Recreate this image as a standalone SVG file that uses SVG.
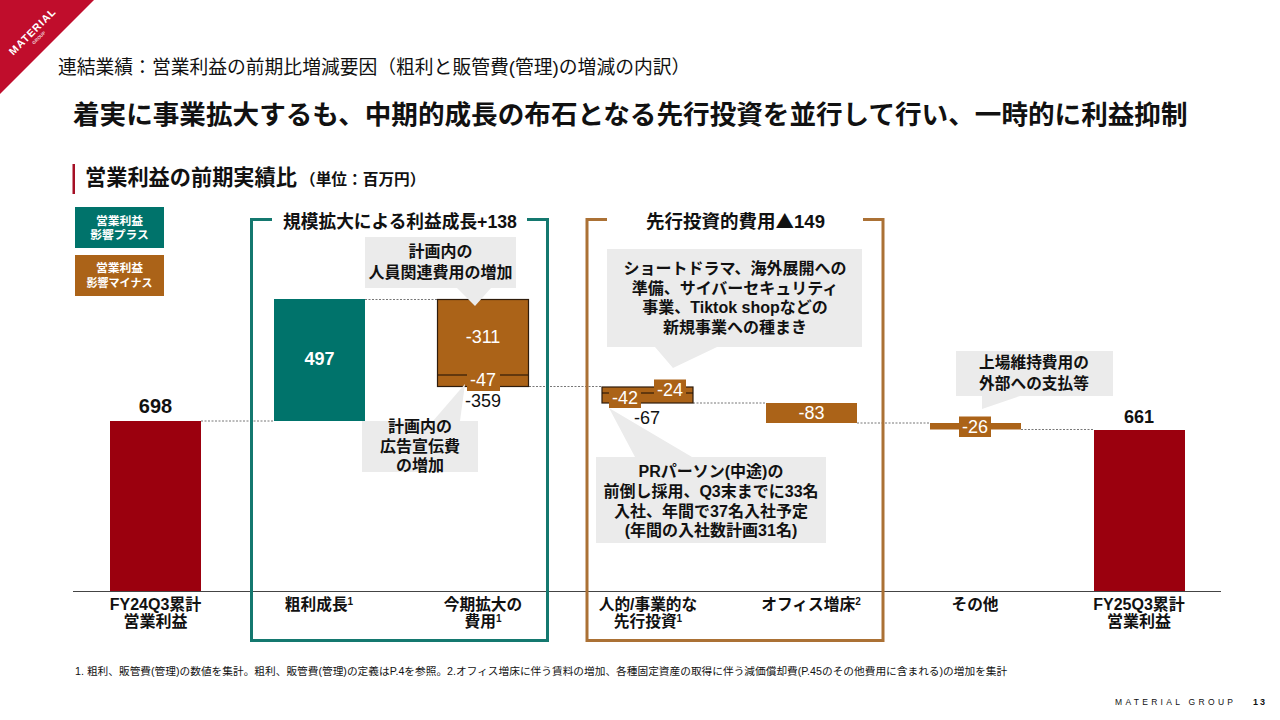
<svg xmlns="http://www.w3.org/2000/svg" width="1280" height="720" viewBox="0 0 1280 720">
<style>
text{font-family:"Liberation Sans","Noto Sans CJK JP",sans-serif;fill:#111}
.b{font-weight:700}
.c{text-anchor:middle}
.w{fill:#fff}
.br{fill:#ab6318}
.te{fill:#00736b}
.red{fill:#9b000e}
.call{fill:#ebebeb}
.dash{stroke:#777;stroke-width:1;stroke-dasharray:2 1.5;fill:none}
.l14{font-size:15.700px;font-weight:700}
.l15{font-size:16px;font-weight:700}
.v{font-size:18px;fill:#fff}
</style>
<rect width="1280" height="720" fill="#fff"/>
<g id="header">
<polygon points="0,0 94,0 0,94" fill="#c00d2c"/>
<g transform="translate(35,34) rotate(-45)">
<text x="0" y="0" class="c w" font-size="10.500" font-weight="700" letter-spacing="1">MATERIAL</text>
<text x="0" y="7" class="c b w" font-size="4.500" opacity="0.8">GROUP</text>
</g>
<text x="58" y="74" font-size="18.800">連結業績：営業利益の前期比増減要因（粗利と販管費(管理)の増減の内訳）</text>
<text x="73" y="124" class="b" font-size="26.600">着実に事業拡大するも、中期的成長の布石となる先行投資を並行して行い、一時的に利益抑制</text>
<rect x="72.500" y="164" width="2.500" height="30" fill="#a50f25"/>
<text x="85" y="185" class="b" font-size="21.200">営業利益の前期実績比</text>
<text x="300" y="185" class="b" font-size="15.700">（単位：百万円）</text>
</g>
<g id="legend">
<rect x="75" y="207" width="89" height="41" class="te"/>
<text x="119.500" y="225" class="c b w" font-size="11.800">営業利益</text>
<text x="119.500" y="239" class="c b w" font-size="11.800">影響プラス</text>
<rect x="75" y="255" width="89" height="41" class="br"/>
<text x="119.500" y="272" class="c b w" font-size="11.800">営業利益</text>
<text x="119.500" y="287" class="c b w" font-size="11">影響マイナス</text>
</g>
<g id="connectors">
<line x1="201" y1="421" x2="274" y2="421" class="dash"/>
<line x1="365" y1="299.500" x2="437" y2="299.500" class="dash"/>
<line x1="529" y1="386.500" x2="602" y2="386.500" class="dash"/>
<line x1="693" y1="403" x2="766" y2="403" class="dash"/>
<line x1="857" y1="423" x2="930" y2="423" class="dash"/>
<line x1="1021" y1="429.500" x2="1094" y2="429.500" class="dash"/>
</g>
<g id="axis"><line x1="73" y1="591.500" x2="1221" y2="591.500" stroke="#444" stroke-width="1"/></g>
<g id="bracket-growth">
<path d="M272 219.500H251.500V640.500H547.500V219.500H527" fill="none" stroke="#14786f" stroke-width="3"/>
<text x="400" y="228" class="c b" font-size="17.700">規模拡大による利益成長+138</text>
</g>
<g id="bracket-invest">
<path d="M607 219.500H587V640.500H883V219.500H863" fill="none" stroke="#ab7135" stroke-width="3"/>
<text x="735.500" y="228" class="c b" font-size="18.500">先行投資的費用<tspan font-family="Noto Sans CJK JP">▲</tspan>149</text>
</g>
<g id="bar-fy24">
<rect x="110" y="421" width="91" height="170" class="red"/>
<text x="155.500" y="413" class="c b" font-size="20">698</text>
<text x="155.500" y="610" class="c l15">FY24Q3累計</text>
<text x="155.500" y="627" class="c l15">営業利益</text>
</g>
<g id="bar-gross">
<rect x="274" y="299" width="91" height="122" class="te"/>
<text x="319.500" y="365" class="c b w" font-size="18">497</text>
<text x="319" y="610" class="c l14">粗利成長<tspan font-size="10" dy="-5">1</tspan></text>
</g>
<g id="bar-expense">
<rect x="437.500" y="299.500" width="91" height="87" class="br" stroke="#2e1c0c" stroke-width="1.200"/>
<line x1="438" y1="375" x2="528" y2="375" stroke="#1a0f05" stroke-width="1.200"/>
<text x="483" y="343" class="c v">-311</text>
<rect x="467" y="371" width="33" height="20" class="br"/>
<text x="483" y="386" class="c v">-47</text>
<text x="483" y="407" class="c" font-size="18">-359</text>
<text x="483" y="610" class="c l14">今期拡大の</text>
<text x="483" y="627" class="c l14">費用<tspan font-size="10" dy="-5">1</tspan></text>
</g>
<g id="callout-personnel">
<polygon points="365,237 516,237 516,288 491,288 475,306 457,288 365,288" class="call"/>
<text x="440.500" y="257" class="c l15">計画内の</text>
<text x="440.500" y="278" class="c l15">人員関連費用の増加</text>
</g>
<g id="callout-ad">
<polygon points="362,421 433,421 465,384 460,421 478,421 478,472 362,472" class="call"/>
<text x="420" y="432" class="c l15">計画内の</text>
<text x="420" y="452" class="c l15">広告宣伝費</text>
<text x="420" y="471" class="c l15">の増加</text>
</g>
<g id="bar-people">
<rect x="602" y="387" width="91" height="16" class="br" stroke="#2e1c0c" stroke-width="1.200"/>
<line x1="602" y1="393" x2="693" y2="393" stroke="#1a0f05" stroke-width="1.200"/>
<rect x="609" y="388" width="32" height="20" class="br"/>
<text x="625" y="404" class="c v">-42</text>
<rect x="654" y="379.500" width="32" height="20" class="br"/>
<text x="670" y="396" class="c v">-24</text>
<text x="647" y="424" class="c" font-size="18">-67</text>
<text x="648" y="610" class="c l14">人的/事業的な</text>
<text x="648" y="627" class="c l14">先行投資<tspan font-size="10" dy="-5">1</tspan></text>
</g>
<g id="callout-short">
<polygon points="607,249 862,249 862,347 717,347 673,368 655,347 607,347" class="call"/>
<text x="735" y="274" class="c l15">ショートドラマ、海外展開への</text>
<text x="735" y="294" class="c l15">準備、サイバーセキュリティ</text>
<text x="735" y="313" class="c l15">事業、Tiktok shopなどの</text>
<text x="735" y="333" class="c l15">新規事業への種まき</text>
</g>
<g id="callout-pr">
<polygon points="596,457 635,457 609,408 692,457 826,457 826,543 596,543" class="call"/>
<text x="711" y="477" class="c l15">PRパーソン(中途)の</text>
<text x="711" y="497" class="c l15">前倒し採用、Q3末までに33名</text>
<text x="711" y="517" class="c l15">入社、年間で37名入社予定</text>
<text x="711" y="536" class="c l15">(年間の入社数計画31名)</text>
</g>
<g id="bar-office">
<rect x="766" y="403" width="91" height="20" class="br"/>
<text x="811.500" y="419" class="c v">-83</text>
<text x="811" y="610" class="c l14">オフィス増床<tspan font-size="10" dy="-5">2</tspan></text>
</g>
<g id="bar-other">
<rect x="930" y="423" width="91" height="6.500" class="br"/>
<rect x="959" y="416.500" width="32" height="20.500" class="br"/>
<text x="975" y="433" class="c v">-26</text>
<text x="975" y="610" class="c l14">その他</text>
</g>
<g id="callout-listing">
<polygon points="956,351 1113,351 1113,396 1020,396 982,409 982,396 956,396" class="call"/>
<text x="1034" y="368" class="c l14">上場維持費用の</text>
<text x="1034" y="389" class="c l14">外部への支払等</text>
</g>
<g id="bar-fy25">
<rect x="1094" y="430" width="91" height="161" class="red"/>
<text x="1139" y="423" class="c b" font-size="18">661</text>
<text x="1139" y="610" class="c l15">FY25Q3累計</text>
<text x="1139" y="627" class="c l15">営業利益</text>
</g>
<g id="footer">
<text x="75" y="675" font-size="10.700" fill="#222">1. 粗利、販管費(管理)の数値を集計。粗利、販管費(管理)の定義はP.4を参照。2.オフィス増床に伴う賃料の増加、各種固定資産の取得に伴う減価償却費(P.45のその他費用に含まれる)の増加を集計</text>
<text x="1115" y="705" font-size="8.500" letter-spacing="3.300">MATERIAL GROUP</text>
<text x="1253" y="705" class="b" font-size="9" letter-spacing="2">13</text>
</g>
</svg>
